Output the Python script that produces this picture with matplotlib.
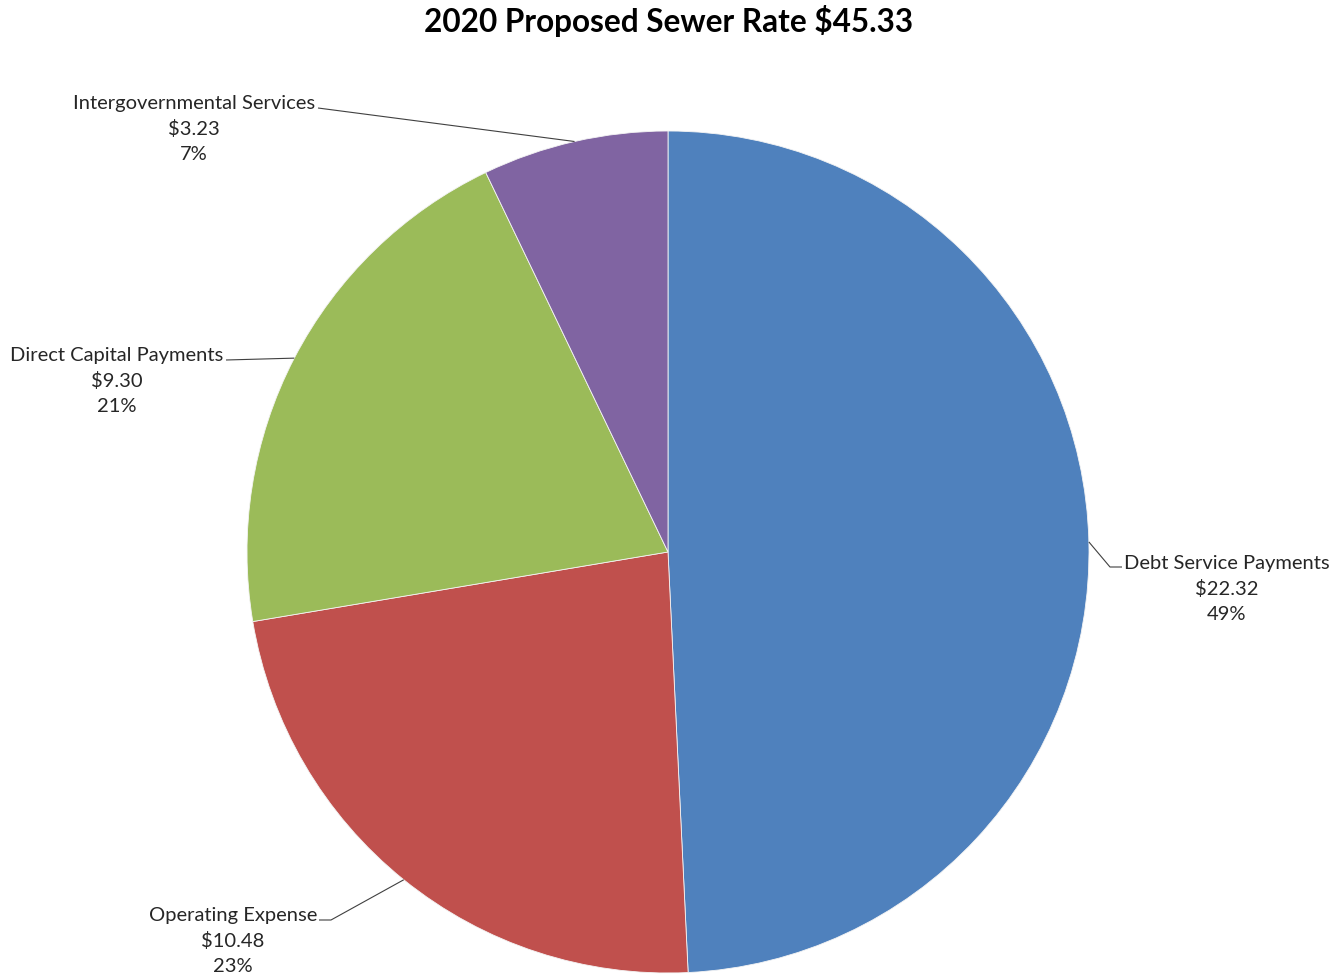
import numpy as np
import matplotlib.pyplot as plt

plt.rcParams['font.family'] = ['Lato', 'DejaVu Sans']

categories = ['Debt Service Payments', 'Operating Expense', 'Direct Capital Payments',
              'Intergovernmental Services']
values = [22.32, 10.48, 9.30, 3.23]
colors = ['#4F81BD', '#C0504D', '#9BBB59', '#8064A2']

W, H = 1334, 977
cx, cy, R = 668, 552, 421   # pie centre and radius in pixels


def px(x, y):
    # pixel position (from top-left) -> data coords (pie radius = 1)
    return (x - cx) / R, (cy - y) / R


fig = plt.figure(figsize=(W / 100, H / 100), dpi=100)
ax = fig.add_axes([0, 0, 1, 1])

wedges, _ = ax.pie(values, colors=colors, startangle=90, counterclock=False, radius=1,
                   wedgeprops=dict(linewidth=0.6, edgecolor='#f4f4f4'))

ax.set_xlim(-cx / R, (W - cx) / R)
ax.set_ylim(-(H - cy) / R, cy / R)
ax.set_aspect('equal')
ax.axis('off')

total = sum(values)
pct = [round(v / total * 100) for v in values]

# label text centre (px) and leader elbow points (px)
label_pos = [(1227, 589), (233, 941), (117, 381), (194, 129)]
elbows = [[(1110, 567), (1122, 567)],
          [(331, 920), (319, 920)],
          [(226, 360)],
          [(318, 108)]]

for w, cat, v, p, lp, el in zip(wedges, categories, values, pct, label_pos, elbows):
    ang = np.deg2rad((w.theta1 + w.theta2) / 2)
    pts = [(np.cos(ang), np.sin(ang))] + [px(*e) for e in el]
    xs, ys = zip(*pts)
    ax.plot(xs, ys, color='#404040', linewidth=0.8, solid_capstyle='butt')
    tx, ty = px(*lp)
    ax.text(tx, ty, f'{cat}\n${v:.2f}\n{p}%', ha='center', va='center',
            fontsize=14.5, linespacing=1.58, color='#262626')

fig.text(669 / W, 1 - 21 / H, '2020 Proposed Sewer Rate $45.33', ha='center', va='center',
         fontsize=22.7, fontweight='bold', color='black')

fig.savefig('out.png', dpi=100, facecolor='white')
